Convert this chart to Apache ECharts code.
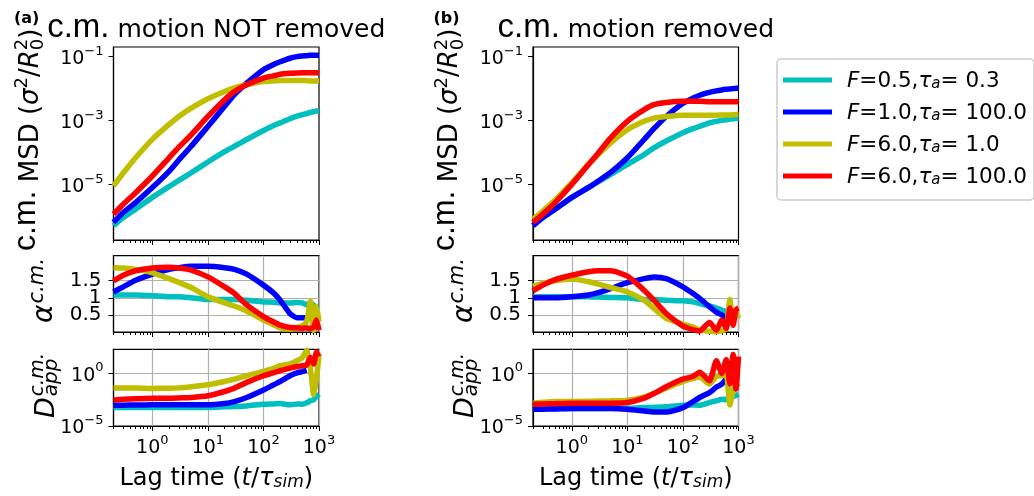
<!DOCTYPE html>
<html><head><meta charset="utf-8">
<script src="https://cdn.jsdelivr.net/npm/echarts@6/dist/echarts.min.js"></script>
<style>html,body{margin:0;padding:0;background:#fff}#c{width:1034px;height:496px}</style>
</head><body><div id="c"></div>
<script>
// ---------- data ----------
const lagTimes = [0.2,0.3,0.5,1,2,3,5,10,20,30,50,100,150,200,300,400,500,600,700,800,900,1000];
const seriesNames = ['F=0.5,τa= 0.3','F=1.0,τa= 100.0','F=6.0,τa= 1.0','F=6.0,τa= 100.0'];
const legendF = ['0.5','1.0','6.0','6.0'];
const legendTau = ['0.3','100.0','1.0','100.0'];
const xMajorTicks = [1,10,100,1000];
const xMinorTicks = [0.2,0.3,0.4,0.5,0.6,0.7,0.8,0.9,2,3,4,5,6,7,8,9,20,30,40,50,60,70,80,90,200,300,400,500,600,700,800,900];
const msdTicks = [1e-5,1e-3,1e-1];
const alphaTicks = [0.5,1,1.5];
const dTicks = [1e-5,1];

// (a) c.m. motion NOT removed
const msdA_c = [5.2e-7,9.3e-7,1.7e-6,4.0e-6,8.7e-6,1.35e-5,2.35e-5,5.1e-5,1.07e-4,1.58e-4,2.57e-4,4.9e-4,6.9e-4,8.5e-4,1.15e-3,1.38e-3,1.55e-3,1.66e-3,1.82e-3,1.9e-3,2.0e-3,2.04e-3];
const msdA_b = [6.6e-7,1.35e-6,2.75e-6,8.1e-6,2.6e-5,5.9e-5,1.58e-4,6.6e-4,2.8e-3,6.5e-3,1.48e-2,3.9e-2,5.6e-2,6.9e-2,8.9e-2,0.1,0.105,0.107,0.11,0.11,0.11,0.11];
const msdA_y = [9.1e-6,2.3e-5,6.9e-5,2.6e-4,7.6e-4,1.35e-3,2.45e-3,4.8e-3,8.1e-3,1.05e-2,1.32e-2,1.66e-2,1.74e-2,1.78e-2,1.78e-2,1.78e-2,1.78e-2,1.78e-2,1.74e-2,1.74e-2,1.74e-2,1.74e-2];
const msdA_r = [1.2e-6,2.45e-6,5.6e-6,1.86e-5,6.9e-5,1.48e-4,3.6e-4,1.35e-3,4.5e-3,8.1e-3,1.32e-2,2.14e-2,2.5e-2,2.8e-2,3.0e-2,3.1e-2,3.15e-2,3.15e-2,3.15e-2,3.15e-2,3.15e-2,3.15e-2];

const alphaA_c = [1.08,1.08,1.08,1.06,1.03,1.03,1.00,0.95,0.95,0.95,0.93,0.88,0.87,0.85,0.85,0.86,0.85,0.80,0.85,0.78,0.72,0.69];
const alphaA_b = [1.17,1.32,1.51,1.69,1.83,1.88,1.92,1.92,1.88,1.83,1.69,1.37,1.15,0.93,0.54,0.42,0.42,0.42,null,null,null,null];
const alphaA_y = [1.88,1.87,1.83,1.73,1.56,1.45,1.30,1.03,0.85,0.76,0.61,0.35,0.22,0.12,0.08,0.14,0.18,0.30,0.90,0.05,0.75,0.30];
const alphaA_r = [1.49,1.66,1.79,1.87,1.89,1.87,1.81,1.61,1.32,1.13,0.79,0.45,0.30,0.20,0.13,0.12,0.11,0.12,0.10,0.15,0.35,0.05];

const dA_c = [5.6e-4,5.6e-4,5.6e-4,5.6e-4,5.6e-4,5.6e-4,5.6e-4,5.6e-4,6.6e-4,7.1e-4,8.1e-4,1.17e-3,1.26e-3,1.35e-3,1.02e-3,1.26e-3,1.17e-3,1.6e-3,2.45e-3,3.2e-3,6.3e-3,1.07e-2];
const dA_b = [9.3e-4,9.5e-4,1.0e-3,1.02e-3,1.02e-3,1.02e-3,1.02e-3,1.02e-3,1.35e-3,2.1e-3,5.1e-3,2.6e-2,7.9e-2,0.17,0.6,1.12,1.5,2.0,null,null,null,null];
const dA_y = [0.04,0.04,0.04,0.037,0.039,0.042,0.054,0.083,0.17,0.29,0.6,1.55,2.8,5.4,7.8,16,32,160,3.2,0.01,0.32,63];
const dA_r = [3.0e-3,3.4e-3,3.9e-3,4.4e-3,4.4e-3,4.7e-3,5.1e-3,7.4e-3,1.9e-2,4.0e-2,0.14,0.6,1.12,1.8,3.2,4.5,5.4,6.3,32,7.9,100,40];

// (b) c.m. motion removed
const msdB_c = [5.2e-7,9.3e-7,1.7e-6,4.0e-6,8.1e-6,1.23e-5,2.1e-5,4.3e-5,8.7e-5,1.4e-4,2.3e-4,4.2e-4,5.6e-4,6.6e-4,8.5e-4,9.5e-4,1.02e-3,1.07e-3,1.12e-3,1.15e-3,1.17e-3,1.2e-3];
const msdB_b = [5.2e-7,9.3e-7,1.7e-6,4.0e-6,8.2e-6,1.3e-5,2.4e-5,6.9e-5,2.57e-4,5.6e-4,1.35e-3,3.5e-3,5.0e-3,6.2e-3,7.6e-3,8.5e-3,9.1e-3,9.5e-3,9.8e-3,1.0e-2,1.02e-2,1.05e-2];
const msdB_y = [8.3e-7,1.5e-6,3.3e-6,1.15e-5,4.3e-5,8.7e-5,2.0e-4,5.2e-4,9.5e-4,1.2e-3,1.35e-3,1.48e-3,1.48e-3,1.48e-3,1.48e-3,1.48e-3,1.5e-3,1.5e-3,1.5e-3,1.52e-3,1.55e-3,1.55e-3];
const msdB_r = [6.6e-7,1.2e-6,2.75e-6,1.02e-5,4.3e-5,9.8e-5,2.9e-4,9.5e-4,2.2e-3,3.16e-3,3.7e-3,4.0e-3,4.0e-3,4.0e-3,3.9e-3,3.9e-3,3.9e-3,3.9e-3,3.9e-3,3.9e-3,3.9e-3,3.9e-3];

const alphaB_c = [1.03,1.03,1.03,1.03,1.03,1.02,1.01,1.00,0.95,0.95,0.93,0.91,0.88,0.83,0.76,0.70,0.64,0.60,0.54,0.55,0.52,0.50];
const alphaB_b = [1.00,1.00,1.00,1.03,1.08,1.15,1.27,1.44,1.56,1.61,1.56,1.32,1.13,0.98,0.74,0.58,0.50,0.40,null,null,null,null];
const alphaB_y = [1.34,1.42,1.50,1.55,1.47,1.40,1.30,1.17,0.93,0.69,0.40,0.23,0.15,0.06,0.02,0.01,0.03,0.10,0.95,0.30,0.60,0.40];
const alphaB_r = [1.20,1.37,1.53,1.66,1.76,1.79,1.79,1.63,1.22,0.93,0.54,0.17,0.07,0.03,0.28,0.05,0.35,0.10,0.70,0.20,0.65,0.70];

const dB_c = [4.6e-4,4.6e-4,4.6e-4,4.6e-4,4.6e-4,4.6e-4,4.8e-4,5.0e-4,5.6e-4,6.0e-4,6.6e-4,9.3e-4,1.0e-3,9.3e-4,1.7e-3,2.5e-3,3.5e-3,3.2e-3,7.4e-3,6.3e-3,7.9e-3,1.07e-2];
const dB_b = [3.9e-4,4.0e-4,4.2e-4,4.6e-4,4.6e-4,4.6e-4,4.6e-4,3.9e-4,2.7e-4,2.2e-4,2.2e-4,5.6e-4,2.0e-3,5.1e-3,1.5e-2,5.0e-2,9.5e-2,0.29,null,null,null,null];
const dB_y = [1.48e-3,1.78e-3,2.1e-3,2.1e-3,2.24e-3,2.34e-3,2.45e-3,2.8e-3,5.9e-3,1.23e-2,4.0e-2,0.17,0.32,0.42,0.1,0.5,0.63,0.8,1e-3,0.025,0.1,0.05];
const dB_r = [1.17e-3,1.26e-3,1.35e-3,1.48e-3,1.48e-3,1.48e-3,1.48e-3,1.7e-3,4.4e-3,1.23e-2,5.4e-2,0.29,0.5,1.26,0.2,16,1,20,0.1,63,0.032,40];

// ---------- styling / layout ----------
const FONT = 'DejaVu Sans';
const colors = ['#00BFBF','#0000FF','#BFBF00','#FF0000'];
const colA = {left:113.5, width:205.5};
const colB = {left:533, width:205.5};
const rowTop = {top:47, height:193};
const rowMid = {top:255.7, height:76.3};
const rowBot = {top:349.3, height:76.7};
const gridBoxes = [
  Object.assign({}, colA, rowTop), Object.assign({}, colA, rowMid), Object.assign({}, colA, rowBot),
  Object.assign({}, colB, rowTop), Object.assign({}, colB, rowMid), Object.assign({}, colB, rowBot)
];
const panels = [
  {kind:'msd', data:[msdA_c,msdA_b,msdA_y,msdA_r]},
  {kind:'alpha', data:[alphaA_c,alphaA_b,alphaA_y,alphaA_r]},
  {kind:'d', data:[dA_c,dA_b,dA_y,dA_r]},
  {kind:'msd', data:[msdB_c,msdB_b,msdB_y,msdB_r]},
  {kind:'alpha', data:[alphaB_c,alphaB_b,alphaB_y,alphaB_r]},
  {kind:'d', data:[dB_c,dB_b,dB_y,dB_r]}
];

function logLabel(v){
  const e = Math.round(Math.log10(v));
  return '{b|10}{s|' + (e < 0 ? '\u2212' + (-e) : e) + '}';
}
const labelRich = {
  b:{fontFamily:FONT, fontSize:19, lineHeight:24, verticalAlign:'bottom', color:'#000'},
  s:{fontFamily:FONT, fontSize:13, lineHeight:16, verticalAlign:'top', color:'#000'}
};
const axisLineStyle = {show:true, onZero:false, lineStyle:{color:'#000', width:1.2}};
const gridLine = {show:true, lineStyle:{color:'#b0b0b0', width:1.2, type:'solid'}};
const tickStyle = {color:'#000', width:1};

const xAxis = [], yAxis = [], series = [];
panels.forEach((p, gi) => {
  const isBottom = p.kind === 'd';
  const showGrid = p.kind !== 'msd';
  const xIdx = xAxis.length;
  xAxis.push({
    type:'log', logBase:10, gridIndex:gi, min:0.2, max:1000, position:'bottom',
    axisLine:axisLineStyle,
    axisTick:{show:true, customValues:xMajorTicks, length:5, lineStyle:tickStyle},
    axisLabel:{show:isBottom, customValues:xMajorTicks, margin:8, hideOverlap:false, formatter:logLabel, rich:labelRich},
    splitLine: showGrid ? gridLine : {show:false},
    name: isBottom ? '{n|Lag time (}{i|t}{n|/}{i|τ}{sub|sim}{n|)}' : '',
    nameLocation:'middle', nameGap:40,
    nameTextStyle:{rich:{
      n:{fontFamily:FONT, fontSize:24, lineHeight:24.8, verticalAlign:'bottom', color:'#000'},
      i:{fontFamily:FONT, fontSize:24, fontStyle:'italic', lineHeight:24.8, verticalAlign:'bottom', color:'#000'},
      sub:{fontFamily:FONT, fontSize:17, fontStyle:'italic', lineHeight:12, verticalAlign:'bottom', color:'#000'}
    }}
  });
  xAxis.push({
    type:'log', logBase:10, gridIndex:gi, min:0.2, max:1000, position:'bottom',
    axisLine:{show:false, onZero:false},
    axisTick:{show:true, customValues:xMinorTicks, length:3, lineStyle:tickStyle},
    axisLabel:{show:false}, splitLine:{show:false}
  });
  const yIdx = yAxis.length;
  if (p.kind === 'msd') {
    yAxis.push({type:'log', logBase:10, gridIndex:gi, min:1.86e-7, max:0.2, position:'left', axisLine:axisLineStyle,
      axisTick:{show:true, customValues:msdTicks, length:5, lineStyle:tickStyle},
      axisLabel:{customValues:msdTicks, margin:10, hideOverlap:false, formatter:logLabel, rich:labelRich},
      splitLine:{show:false}});
  } else if (p.kind === 'alpha') {
    yAxis.push({type:'value', gridIndex:gi, min:0, max:2.23, position:'left', axisLine:axisLineStyle,
      axisTick:{show:true, customValues:alphaTicks, length:5, lineStyle:tickStyle},
      axisLabel:{show:false, customValues:alphaTicks},
      splitLine:gridLine});
    // one label-only axis per tick so that the closely spaced labels are all kept
    alphaTicks.forEach(t => {
      yAxis.push({type:'value', gridIndex:gi, min:0, max:2.23, position:'left',
        axisLine:{show:false, onZero:false},
        axisTick:{show:false, customValues:[t]},
        axisLabel:{customValues:[t], margin:12, fontFamily:FONT, fontSize:20, color:'#000'},
        splitLine:{show:false}});
    });
  } else {
    yAxis.push({type:'log', logBase:10, gridIndex:gi, min:1e-5, max:195, position:'left', axisLine:axisLineStyle,
      axisTick:{show:true, customValues:dTicks, length:5, lineStyle:tickStyle},
      axisLabel:{customValues:dTicks, margin:10, hideOverlap:false, formatter:logLabel, rich:labelRich},
      splitLine:gridLine});
  }
  p.data.forEach((vals, k) => {
    series.push({
      type:'line', name:seriesNames[k], xAxisIndex:xIdx, yAxisIndex:yIdx,
      data: lagTimes.map((t, i) => [t, vals[i]]).filter(d => d[1] !== null),
      showSymbol:false, symbol:'none', smooth:0.2,
      lineStyle:{color:colors[k], width:5.5}, itemStyle:{color:colors[k]},
      clip:true, z:2+k
    });
  });
});

// ---------- text runs (titles and rotated axis names) ----------
const mctx = document.createElement('canvas').getContext('2d');
function fontStr(p){ return (p.italic ? 'italic ' : '') + (p.bold ? 'bold ' : '') + p.size + 'px "' + (p.family || FONT) + '"'; }
function textW(p){ mctx.font = fontStr(p); return mctx.measureText(p.text).width; }
function runs(parts, x0){
  let x = x0 || 0; const out = [];
  parts.forEach(p => {
    out.push({type:'text', x:x + (p.dx || 0), y:(p.dy || 0) - 0.35 * p.size,
      style:{text:p.text, font:fontStr(p), fill:'#000', align:'left', verticalAlign:'middle', lineHeight:p.size}});
    if (!p.noAdvance) x += textW(p);
  });
  return out;
}
function runsWidth(parts){ return parts.reduce((s, p) => s + (p.noAdvance ? 0 : textW(p)), 0); }

function panelGraphics(g, dx, letter, title){
  const titleParts = [{text:'c.m.', size:33, family:'Liberation Sans'}, {text:' ' + title, size:25}];
  const tcx = g.left + g.width / 2;
  const msdParts = [
    {text:'c.m.', size:32, family:'Liberation Sans', dy:-3},
    {text:' MSD (', size:26},
    {text:'σ', size:26, italic:true},
    {text:'2', size:18, dy:-11},
    {text:'/', size:26},
    {text:'R', size:26, italic:true},
    {text:'0', size:18, dy:5, noAdvance:true},
    {text:'2', size:18, dy:-11},
    {text:')', size:26}
  ];
  const aParts = [{text:'α', size:28, italic:true}, {text:'c.m.', size:21, italic:true, dy:-10, dx:1}];
  const dParts = [
    {text:'D', size:27, italic:true},
    {text:'c.m.', size:20, italic:true, dy:-11, dx:1, noAdvance:true},
    {text:'app', size:20, italic:true, dy:3, dx:1}
  ];
  return [
    {type:'text', x:14 + dx, y:11, style:{text:'(' + letter + ')', font:'bold 16px "DejaVu Sans"', fill:'#000', verticalAlign:'top', align:'left'}},
    {type:'group', x:0, y:39.5, children:runs(titleParts, tcx - runsWidth(titleParts) / 2)},
    {type:'group', x:40 + dx, y:251, rotation:Math.PI / 2, children:runs(msdParts)},
    {type:'group', x:55 + dx, y:323, rotation:Math.PI / 2, children:runs(aParts)},
    {type:'group', x:56 + dx, y:418, rotation:Math.PI / 2, children:runs(dParts)}
  ];
}

const option = {
  animation:false,
  backgroundColor:'#fff',
  grid: gridBoxes.map(g => Object.assign({show:true, borderColor:'#000', borderWidth:1.2, backgroundColor:'rgba(0,0,0,0)', containLabel:false, outerBoundsMode:'none'}, g)),
  xAxis, yAxis, series,
  legend:{
    data:seriesNames, orient:'vertical', left:777, top:59, padding:[10,7,12,6], itemGap:9,
    itemWidth:49, itemHeight:5, icon:'rect',
    borderColor:'#cccccc', borderWidth:1.5, borderRadius:4, backgroundColor:'#fff',
    selectedMode:false,
    textStyle:{fontFamily:FONT, fontSize:21.5, color:'#000', rich:{
      g:{width:10},
      n:{fontFamily:FONT, fontSize:21.5, lineHeight:24, verticalAlign:'bottom', color:'#000'},
      i:{fontFamily:FONT, fontSize:21.5, fontStyle:'italic', lineHeight:24, verticalAlign:'bottom', color:'#000'},
      sub:{fontFamily:FONT, fontSize:15, fontStyle:'italic', lineHeight:10, verticalAlign:'bottom', color:'#000'}
    }},
    formatter: name => {
      const k = seriesNames.indexOf(name);
      return '{g|}{i|F}{n|=' + legendF[k] + ',}{i|τ}{sub|a}{n|= ' + legendTau[k] + '}';
    }
  },
  graphic: panelGraphics(gridBoxes[0], 0, 'a', 'motion NOT removed').concat(panelGraphics(gridBoxes[3], 419.5, 'b', 'motion removed'))
};
const chart = echarts.init(document.getElementById('c'), null, {renderer:'canvas'});
chart.setOption(option);
</script>
</body></html>
